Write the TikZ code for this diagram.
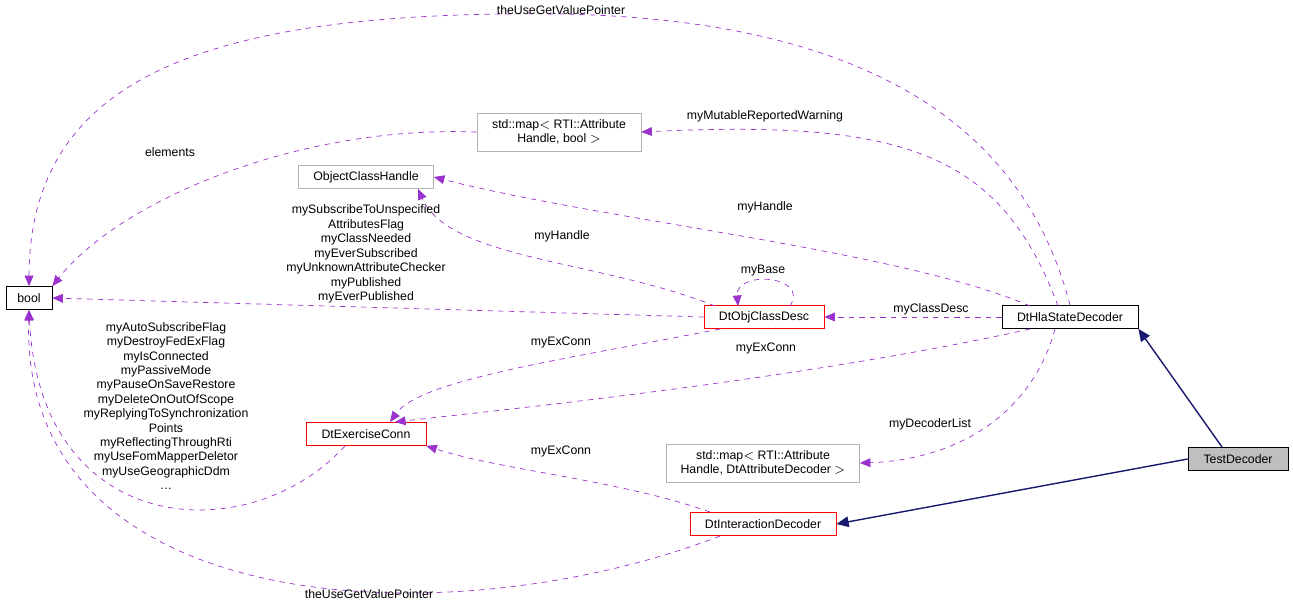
\documentclass[tikz,border=0pt]{standalone}
\usepackage{fontspec}
\setmainfont{Liberation Sans}
\usetikzlibrary{arrows.meta}
\definecolor{dep}{HTML}{9A32CD}
\definecolor{inh}{HTML}{191970}
\begin{document}
\begin{tikzpicture}[x=0.02cm,y=-0.02cm,font=\fontsize{7}{8.2}\selectfont,
	box/.style={draw=black,fill=white,inner sep=2pt,minimum height=0.46cm,align=center},
	grey/.style={box,draw=black!30},
	red/.style={box,draw=red},
	uses/.style={draw=dep,dashed,-{Triangle[length=6pt,width=5pt]}},
	isa/.style={draw=inh,thick,-{Triangle[length=7pt,width=6pt]}},
	lab/.style={align=center,inner sep=1pt}]
	\useasboundingbox (0,0) rectangle (1293,613);

	\node[box,minimum width=0.92cm] (bool) at (29,298) {bool};
	\node[grey,minimum width=3.28cm,minimum height=0.76cm] (mapb) at (559,132) {std::map$<$ RTI::Attribute\\Handle, bool $>$};
	\node[grey,minimum width=2.7cm] (och) at (366,177) {ObjectClassHandle};
	\node[red,minimum width=2.4cm] (ocd) at (764,317) {DtObjClassDesc};
	\node[box,minimum width=2.72cm] (hsd) at (1070,317) {DtHlaStateDecoder};
	\node[red,minimum width=2.4cm] (exc) at (366,434) {DtExerciseConn};
	\node[grey,minimum width=3.86cm,minimum height=0.76cm] (mapd) at (763,463) {std::map$<$ RTI::Attribute\\Handle, DtAttributeDecoder $>$};
	\node[box,fill=black!25,minimum width=2cm] (test) at (1238,459) {TestDecoder};
	\node[red,minimum width=2.92cm] (idec) at (763,524) {DtInteractionDecoder};

	% usage
	\draw[uses] (hsd.north) .. controls (1030,150) and (900,20) .. (560,14)
		.. controls (200,10) and (30,80) .. (bool.north);
	\node[lab] at (561,10) {theUseGetValuePointer};
	\draw[uses] (1058,306) .. controls (1000,150) and (900,120) .. (mapb.east);
	\node[lab] at (765,116) {myMutableReportedWarning};
	\draw[uses] (mapb.west) .. controls (300,125) and (120,200) .. (bool.north east);
	\node[lab] at (170,152) {elements};
	\draw[uses] (1030,306) .. controls (900,250) and (600,220) .. (och.east);
	\node[lab] at (765,207) {myHandle};
	\draw[uses] (715,306) .. controls (600,260) and (450,260) .. (418,189);
	\node[lab] at (562,236) {myHandle};
	\draw[uses] (790,306) .. controls (810,275) and (735,270) .. (738,306);
	\node[lab] at (763,271) {myBase};
	\draw[uses] (ocd.west) -- (bool.east);
	\node[lab] at (366,254) {mySubscribeToUnspecified\\AttributesFlag\\myClassNeeded\\myEverSubscribed\\myUnknownAttributeChecker\\myPublished\\myEverPublished};
	\draw[uses] (hsd.west) -- (ocd.east);
	\node[lab] at (931,309) {myClassDesc};
	\draw[uses] (720,329) .. controls (560,360) and (420,380) .. (390,422);
	\node[lab] at (561,342) {myExConn};
	\draw[uses] (1030,329) .. controls (800,380) and (500,410) .. (395,422);
	\node[lab] at (766,348) {myExConn};
	\draw[uses] (1055,329) .. controls (1030,420) and (950,460) .. (mapd.east);
	\node[lab] at (930,424) {myDecoderList};
	\draw[uses] (345,446) .. controls (250,550) and (40,540) .. (bool.south);
	\node[lab] at (166,406) {myAutoSubscribeFlag\\myDestroyFedExFlag\\myIsConnected\\myPassiveMode\\myPauseOnSaveRestore\\myDeleteOnOutOfScope\\myReplyingToSynchronization\\Points\\myReflectingThroughRti\\myUseFomMapperDeletor\\myUseGeographicDdm\\\ldots};
	\draw[uses] (710,512) .. controls (620,480) and (500,470) .. (exc.south east);
	\node[lab] at (561,451) {myExConn};
	\draw[uses] (720,536) .. controls (450,640) and (20,620) .. (bool.south);
	\node[lab] at (369,594) {theUseGetValuePointer};

	% inheritance
	\draw[isa] (1222,447) -- (hsd.south east);
	\draw[isa] (test.west) -- (idec.east);
\end{tikzpicture}
\end{document}
